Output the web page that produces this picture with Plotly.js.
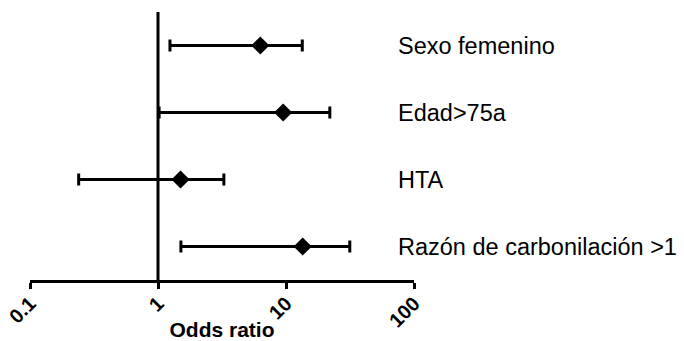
<!DOCTYPE html>
<html>
<head>
<meta charset="utf-8">
<script src="https://cdn.plot.ly/plotly-3.0.1.min.js"></script>
<style>html,body{margin:0;padding:0;background:#fff}#chart{width:684px;height:341px}</style>
</head>
<body>
<div id="chart"></div>
<script>
var labels = ['Sexo femenino', 'Edad>75a', 'HTA', 'Razón de carbonilación >1'];
var oddsRatio = [6.3, 9.5, 1.5, 13.5];
var ciLow = [1.24, 1.02, 0.24, 1.51];
var ciHigh = [13.4, 22.0, 3.27, 31.5];
var tickVals = [0.1, 1, 10, 100];
var tickText = ['0.1', '1', '10', '100'];

var plus = oddsRatio.map(function (v, i) { return ciHigh[i] - v; });
var minus = oddsRatio.map(function (v, i) { return v - ciLow[i]; });

var trace = {
  type: 'scatter',
  mode: 'markers',
  x: oddsRatio,
  y: labels,
  marker: { symbol: 'diamond', size: 14, color: '#000' },
  error_x: { type: 'data', symmetric: false, array: plus, arrayminus: minus,
             color: '#000', thickness: 3, width: 6 },
  hoverinfo: 'x+y'
};

var annotations = labels.map(function (l) {
  return { xref: 'paper', yref: 'y', x: 0.954, y: l, text: l, showarrow: false,
           xanchor: 'left', yanchor: 'middle',
           font: { family: 'Liberation Sans, Arial, sans-serif', size: 23.5, color: '#000' } };
});

var layout = {
  width: 684, height: 341,
  margin: { l: 30, r: 270, t: 12, b: 61 },
  paper_bgcolor: '#fff', plot_bgcolor: '#fff',
  showlegend: false,
  xaxis: {
    type: 'log', range: [-1, 2],
    tickvals: tickVals, ticktext: tickText, tickangle: -45,
    ticks: 'outside', ticklen: 6, tickwidth: 3, tickcolor: '#000',
    ticklabelstandoff: -5,
    showline: true, linewidth: 3, linecolor: '#000',
    showgrid: false, zeroline: false,
    tickfont: { family: 'Liberation Sans, Arial, sans-serif', size: 20, color: '#000', weight: 700 },
    title: { text: 'Odds ratio', standoff: 0,
             font: { family: 'Liberation Sans, Arial, sans-serif', size: 21, color: '#000', weight: 700 } }
  },
  yaxis: {
    type: 'category', categoryorder: 'array', categoryarray: labels,
    range: [3.5, -0.5],
    showticklabels: false, ticks: '', showgrid: false, zeroline: false, showline: false
  },
  shapes: [{ type: 'line', xref: 'x', yref: 'paper', x0: 1, x1: 1, y0: 0, y1: 1,
             line: { color: '#000', width: 3 } }],
  annotations: annotations
};

Plotly.newPlot('chart', [trace], layout, { displayModeBar: false, staticPlot: true });
</script>
</body>
</html>
